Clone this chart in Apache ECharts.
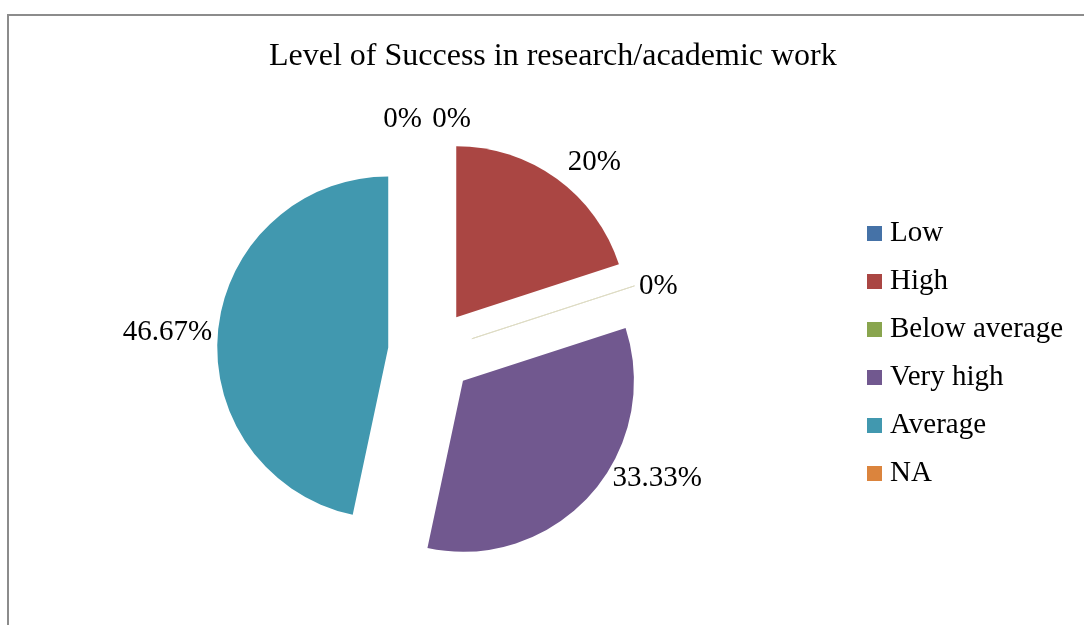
<!DOCTYPE html>
<html>
<head>
<meta charset="utf-8">
<title>Level of Success in research/academic work</title>
<script src="https://cdn.jsdelivr.net/npm/echarts@6/dist/echarts.min.js"></script>
<style>
  html, body { margin: 0; padding: 0; background: #ffffff; }
  #chart { width: 1084px; height: 625px; }
</style>
</head>
<body>
<div id="chart"></div>
<script>
// Survey responses: share of respondents per level (percent)
const categories = ['Low', 'High', 'Below average', 'Very high', 'Average', 'NA'];
const shares = [0, 20, 0, 33.33, 46.67, 0];
const colors = ['#4572A7', '#AA4643', '#89A54E', '#71588F', '#4198AF', '#DB843D'];

// per-slice nudges for the outside labels (dx, dy in px)
const labelNudge = [[-4, -9], [0, -8], [-10, 4], [10, -23], [9, 4], [45, -9]];

const serif = '"Liberation Serif", "Times New Roman", serif';

const chart = echarts.init(document.getElementById('chart'), null, { renderer: 'canvas' });

const data = categories.map((name, i) => ({
  name: name,
  value: shares[i],
  selected: true,
  itemStyle: {
    color: colors[i],
    borderWidth: name === 'Below average' ? 1 : 0,
    borderColor: '#dedcc4'
  }
}));

chart.setOption({
  backgroundColor: '#ffffff',
  animation: false,
  title: {
    text: 'Level of Success in research/academic work',
    left: 269,
    top: 41,
    padding: 0,
    textStyle: { fontFamily: serif, fontSize: 32, fontWeight: 'normal', color: '#000' }
  },
  legend: {
    orient: 'vertical',
    left: 867,
    top: 219,
    padding: 0,
    itemWidth: 15,
    itemHeight: 15,
    itemGap: 19,
    icon: 'rect',
    selectedMode: false,
    data: categories,
    itemStyle: { borderWidth: 0 },
    textStyle: { fontFamily: serif, fontSize: 29, lineHeight: 29, color: '#000', padding: [0, 0, 0, 3] }
  },
  graphic: [{
    type: 'polyline',
    shape: { points: [[8, 625], [8, 15], [1084, 15]] },
    style: { stroke: '#8c8c8c', lineWidth: 2, fill: null },
    silent: true
  }],
  series: [{
    type: 'pie',
    center: [431, 352],
    radius: [0, 171],
    startAngle: 90,
    clockwise: true,
    selectedMode: 'multiple',
    selectedOffset: 43,
    avoidLabelOverlap: false,
    silent: true,
    emphasis: { disabled: true },
    label: {
      show: true,
      position: 'outside',
      formatter: p => p.value + '%',
      fontFamily: serif,
      fontSize: 29,
      color: '#000'
    },
    labelLine: { show: false, length: 10, length2: 0 },
    labelLayout: function (params) {
      const n = labelNudge[params.dataIndex];
      return { dx: n[0], dy: n[1] };
    },
    data: data
  }]
});
</script>
</body>
</html>
